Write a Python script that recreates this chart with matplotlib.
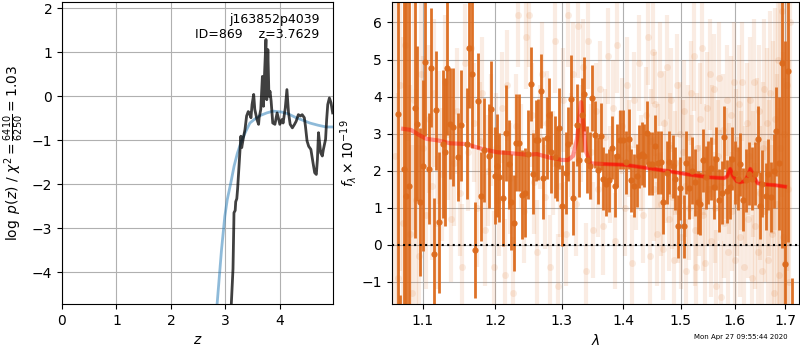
import matplotlib
matplotlib.use('Agg')
import matplotlib.pyplot as plt
import numpy as np
from matplotlib.ticker import FixedLocator, FormatStrFormatter, NullLocator

# ---- p(z) panel ----
z_pz = [3.10, 3.109, 3.14, 3.155, 3.158, 3.18, 3.19, 3.21, 3.225, 3.25, 3.27, 3.285, 3.30, 3.33,
        3.36, 3.39, 3.42, 3.44, 3.47, 3.49, 3.52, 3.54, 3.58, 3.61, 3.62, 3.65, 3.68, 3.70, 3.72,
        3.745, 3.76, 3.78, 3.80, 3.82, 3.84, 3.87, 3.91, 3.95, 3.98, 4.00, 4.04, 4.06, 4.10, 4.13,
        4.16, 4.19, 4.23, 4.27, 4.30, 4.34, 4.38, 4.41, 4.45, 4.47, 4.50, 4.53, 4.57, 4.61, 4.64,
        4.67, 4.69, 4.71, 4.73, 4.75, 4.78, 4.80, 4.84, 4.86, 4.88, 4.91, 4.94, 4.97]
logp = [-6.0, -4.73, -3.93, -2.9, -2.65, -2.60, -2.40, -2.33, -2.1, -1.6, -1.2, -0.91, -1.17, -0.95,
        -0.76, -0.45, -0.35, -0.38, -0.49, -0.19, 0.04, -0.30, -0.53, -0.64, -0.49, -0.30, 0.45, -0.23, 0.53,
        1.29, -0.08, 1.06, 0.0, 0.11, -0.11, -0.61, -0.64, -0.38, -0.53, -0.64, -0.53, -0.61, -0.27, 0.15,
        -0.38, -0.64, -0.72, -0.64, -0.57, -0.42, -0.45, -0.42, -0.49, -0.68, -1.02, -1.14, -1.21, -1.52, -1.74,
        -1.78, -1.44, -0.83, -1.06, -1.29, -1.36, -1.21, -0.98, -0.53, -0.19, -0.04, -0.15, -0.38]

z_prior = [2.80, 2.85, 2.93, 2.99, 3.035, 3.10, 3.16, 3.22, 3.285, 3.36, 3.45, 3.54, 3.64, 3.76,
           3.88, 4.03, 4.15, 4.30, 4.45, 4.55, 4.70, 4.85, 4.98]
logp_prior = [-5.3, -4.70, -3.48, -2.73, -2.35, -1.97, -1.59, -1.30, -1.06, -0.84, -0.61, -0.52, -0.44, -0.38,
              -0.34, -0.36, -0.40, -0.49, -0.56, -0.61, -0.66, -0.70, -0.70]

# ---- spectrum panel: combined (dark) points ----
lam_d = [1.068, 1.0712, 1.0758, 1.078, 1.0823, 1.0898, 1.0925, 1.0969, 1.1009, 1.1036, 1.108, 1.1116,
         1.1152, 1.1184, 1.1224, 1.1269, 1.1301, 1.1333, 1.1369, 1.141, 1.1479, 1.1516, 1.1604, 1.1636,
         1.1674, 1.1721, 1.1754, 1.1801, 1.1844, 1.1911, 1.1949, 1.1993, 1.2036, 1.2061, 1.2109, 1.2158,
         1.2198, 1.2227, 1.2272, 1.2311, 1.2356, 1.2396, 1.2436, 1.2487, 1.2527,
         1.2565, 1.2605, 1.2641, 1.2676, 1.2717, 1.2768, 1.2809, 1.284, 1.2891, 1.2922, 1.2964, 1.301,
         1.3063, 1.3105, 1.3152, 1.3183, 1.3236, 1.3279, 1.3327, 1.3354, 1.3407, 1.345, 1.3488, 1.3531,
         1.3585, 1.3629, 1.3668, 1.3711, 1.3767, 1.3811, 1.3855, 1.39, 1.3944, 1.3989, 1.4045, 1.409,
         1.4135, 1.4181, 1.4226, 1.4272, 1.4318, 1.4358, 1.4398, 1.4439, 1.4491, 1.4543, 1.4596, 1.4643,
         1.469, 1.4749, 1.4796,
         1.4856, 1.4898, 1.494, 1.4988, 1.5048, 1.5096, 1.5145, 1.52, 1.5249, 1.5304, 1.5353, 1.5402,
         1.5452, 1.5501, 1.5551, 1.5601, 1.5651, 1.5702, 1.5752, 1.5803, 1.5853, 1.5904, 1.5956, 1.6007,
         1.6058, 1.611, 1.6168, 1.6227, 1.6272, 1.6331, 1.639, 1.6449, 1.6489, 1.6542, 1.6608, 1.6661,
         1.6715, 1.6769, 1.6823, 1.6877, 1.6931, 1.6999, 1.7054, 1.7143]
flux_d = [3.54, -3.0, 2.05, 1.33, 1.60, 3.68, 3.27, 1.15, 2.14, 4.94, 2.05, 4.78,
          -0.24, 3.63, 0.61, 2.73, 2.50, 4.76, 3.27, 3.18, 2.37, 3.23, 2.73, 5.30,
          4.62, -0.14, 3.88, 1.31, 2.55, 2.39, 3.66, 1.87, 2.14, 1.83, 1.27, 3.02,
          2.17, 1.15, 0.59, 2.76, 2.76, 1.35, 1.40, 2.44, 4.33,
          1.92, 2.82, 2.84, 4.14, 1.81, 2.88, 3.51, 2.50, 2.37, 2.19, 3.14, 1.06,
          1.94, 2.71, 3.93, 1.27, 3.24, 2.28, 3.50, 4.08, 2.30, 2.14, 3.96, 2.97,
          2.01, 2.93, 1.78, 1.63, 1.74, 2.62, 1.60, 2.41, 2.84, 2.84, 2.23, 2.86,
          1.74, 1.60, 1.87, 2.39, 2.46, 2.41, 3.02, 2.19, 2.19, 2.66, 2.21, 2.23,
          1.15, 1.94, 2.23,
          2.12, 1.78, 0.50, 1.53, 0.50, 2.21, 1.54, 2.0, 1.69, 1.15, 1.11, 2.28,
          1.83, 1.96, 2.07, 1.56, 2.32, 1.20, 1.40, 2.91, 1.45, 1.56, 2.32, 1.94,
          1.78, 2.17, 1.22, 1.74, 1.92, 1.78, 1.92, 2.85, 1.06, 1.65, 1.31, 1.90,
          1.29, 2.0, 3.06, 2.2, 4.92, -0.51, 4.68, -2.6]
err_d = [6, 1.65, 6, 6, 6, 3.5, 2.1, 2.0, 2.3, 2.0, 1.5, 1.6,
         1.5, 1.6, 1.9, 2.0, 2.0, 1.8, 1.5, 1.6, 1.2, 1.5, 1.5, 1.6,
         2.0, 1.3, 1.3, 1.2, 1.4, 1.4, 1.3, 1.3, 1.4, 1.2, 1.3, 1.3,
         1.2, 1.3, 1.3, 1.3, 1.3, 1.2, 1.2, 1.2, 1.0,
         1.1, 1.1, 1.1, 1.0, 1.1, 1.1, 1.0, 1.1, 1.1, 1.0, 1.1, 1.1,
         1.1, 1.0, 1.2, 1.0, 1.1, 1.0, 1.0, 1.0, 0.9, 0.9, 0.9, 0.9,
         0.9, 0.9, 0.85, 0.85, 0.85, 0.85, 0.85, 0.85, 0.8, 0.8, 0.85, 0.8,
         0.85, 0.85, 0.85, 0.85, 0.85, 0.85, 0.85, 0.85, 0.85, 0.85, 0.85, 0.85,
         0.85, 0.85, 0.85,
         0.85, 0.85, 0.85, 0.85, 0.85, 0.85, 0.85, 0.9, 0.9, 0.85, 0.85, 0.85,
         0.85, 0.85, 0.85, 0.85, 0.85, 0.85, 0.85, 0.85, 0.85, 0.85, 0.85, 0.85,
         0.85, 0.85, 0.85, 0.85, 0.85, 0.85, 0.85, 0.9, 0.9, 0.9, 0.9, 0.95,
         0.95, 1.0, 1.2, 1.8, 5, 6, 4.6, 1.7]

# ---- individual-beam (faint) points ----
lam_f = [1.064, 1.068, 1.071, 1.074, 1.077, 1.080, 1.083, 1.086, 1.089, 1.092, 1.095, 1.098,
         1.101, 1.104, 1.108, 1.112, 1.115, 1.119, 1.122, 1.126, 1.130, 1.134, 1.138, 1.142,
         1.146, 1.150, 1.154, 1.158, 1.162, 1.166, 1.170, 1.174, 1.178, 1.182, 1.186, 1.190,
         1.194, 1.198, 1.202, 1.206, 1.210, 1.214, 1.218, 1.222, 1.226, 1.230, 1.234, 1.238,
         1.242, 1.246, 1.250, 1.254, 1.258, 1.262, 1.266, 1.270, 1.274, 1.278, 1.282, 1.286,
         1.290, 1.294, 1.298, 1.302, 1.306, 1.310, 1.314, 1.318, 1.322, 1.326, 1.330, 1.334,
         1.338, 1.342, 1.346, 1.350, 1.354, 1.358, 1.362, 1.366, 1.370, 1.374, 1.378, 1.382,
         1.386, 1.390, 1.394, 1.398, 1.402, 1.406, 1.410, 1.414, 1.418, 1.422, 1.426, 1.430,
         1.434, 1.438, 1.442, 1.446,
         1.448, 1.450, 1.453, 1.455, 1.458, 1.460, 1.463, 1.465, 1.468, 1.470, 1.473, 1.475,
         1.478, 1.480, 1.483, 1.485, 1.488, 1.490, 1.493, 1.495, 1.498, 1.500, 1.503, 1.505,
         1.508, 1.510, 1.513, 1.515, 1.518, 1.520, 1.523, 1.525, 1.528, 1.530, 1.533, 1.535,
         1.538, 1.540, 1.543, 1.545, 1.548, 1.550, 1.553, 1.555, 1.558, 1.560, 1.563, 1.565,
         1.568, 1.570, 1.573, 1.575, 1.578, 1.580, 1.583, 1.585, 1.588, 1.590, 1.593, 1.595,
         1.598, 1.600, 1.603, 1.605, 1.608, 1.610, 1.613, 1.615, 1.618, 1.620, 1.623, 1.625,
         1.628, 1.630, 1.633, 1.635, 1.638, 1.640, 1.643, 1.645, 1.648, 1.650, 1.653, 1.655,
         1.658, 1.660, 1.663, 1.665, 1.668, 1.670, 1.673, 1.675, 1.678, 1.680, 1.683, 1.685,
         1.688, 1.690, 1.693, 1.695, 1.698, 1.700, 1.703, 1.705, 1.708, 1.711]
flux_f = [2.4, -0.9, 4.3, 0.6, 5.4, 2.9, 0.3, -1.3, 3.9, 1.2, -0.3, 4.6,
          2.6, 0.8, 3.4, 1.6, 4.1, 0.6, 2.9, 1.9, 4.4, 3.0, 0.7, 2.2,
          3.6, 1.4, -0.6, 4.9, 2.5, 5.3, 3.3, 1.0, 2.8, 4.1, 0.4, 2.0,
          3.1, -0.6, 2.6, 1.2, 3.7, -0.8, 4.3, 1.8, -1.3, 3.2, 6.2, 2.4,
          0.9, 5.6, 6.2, 3.5, 1.7, -0.2, 2.9, 4.6, 1.3, 3.3, -0.6, 2.2,
          5.5, -1.1, 1.6, 3.9, 0.3, 6.2, 2.7, 4.6, 1.1, 5.9, 3.0, 4.8,
          -0.7, 5.5, 2.5, 0.4, 3.6, 1.5, 4.2, 0.5, 2.9, 5.1, 1.9, 3.7,
          0.1, 5.4, 2.3, 3.2, 1.0, 4.3, 2.6, -0.5, 3.9, 1.7, 4.9, 2.2,
          0.8, 3.5, 5.6, -0.3,
          2.8, 5.2, 1.5, 3.8, 0.3, 2.4, 4.6, 1.1, -0.1, 3.3, 2.0, 4.8,
          0.7, 2.7, 3.9, 1.3, -0.4, 2.2, 4.3, 0.9, 3.0, 0.2, 2.5, 3.6,
          1.6, -0.7, 2.9, 1.0, 4.1, 2.1, 5.1, 0.4, -0.6, 2.6, 1.2, 3.4,
          5.3, 0.8, 2.3, -0.5, 3.7, 1.5, 4.6, 0.1, 2.8, 4.2, 1.0, -1.1,
          2.4, 4.5, 1.6, -1.4, 3.1, 0.6, 2.2, 3.9, -0.2, 1.8, 3.5, 0.9,
          4.4, -0.4, 2.6, 1.3, 3.8, 0.2, 2.0, 4.4, -0.6, 1.6, 3.3, 0.7,
          2.4, 3.9, -0.9, 1.9, 4.4, 0.5, 2.8, -0.2, 3.6, 1.4, -0.7, 2.6,
          4.2, 0.9, 3.3, -0.4, 1.8, 4.1, 0.3, 2.9, -1.3, 3.4, 1.1, 5.0,
          -0.8, 2.6, 6.3, 0.2, 3.0, -0.5, 4.3, 1.5, -1.0, 6.0]
err_f = [5, 5, 5, 5, 5, 5, 4, 4, 3.5, 3, 3, 2.5,
         2.5, 2, 2, 2, 2, 1.8, 1.8, 1.8, 1.8, 1.8, 1.7, 1.7,
         1.7, 1.7, 1.7, 1.6, 1.6, 1.6, 1.6, 1.6, 1.6, 1.5, 1.5, 1.5,
         1.5, 1.5, 1.5, 1.5, 1.5, 1.5, 1.5, 1.5, 1.5, 1.4, 1.4, 1.4,
         1.4, 1.4, 1.4, 1.4, 1.4, 1.4, 1.4, 1.4, 1.4, 1.4, 1.4, 1.4,
         1.4, 1.4, 1.4, 1.4, 1.4, 1.4, 1.4, 1.4, 1.4, 1.4, 1.3, 1.3,
         1.3, 1.3, 1.3, 1.3, 1.3, 1.3, 1.3, 1.3, 1.3, 1.3, 1.3, 1.3,
         1.3, 1.3, 1.3, 1.3, 1.3, 1.3, 1.3, 1.3, 1.3, 1.3, 1.3, 1.3,
         1.3, 1.3, 1.3, 1.3,
         1.4, 1.4, 1.4, 1.4, 1.4, 1.4, 1.4, 1.4, 1.4, 1.4, 1.4, 1.4,
         1.4, 1.4, 1.4, 1.4, 1.4, 1.4, 1.4, 1.4, 1.4, 1.4, 1.4, 1.4,
         1.4, 1.4, 1.4, 1.4, 1.4, 1.4, 1.5, 1.5, 1.5, 1.5, 1.5, 1.5,
         1.5, 1.5, 1.5, 1.5, 1.5, 1.5, 1.5, 1.5, 1.5, 1.5, 1.5, 1.5,
         1.5, 1.5, 1.5, 1.5, 1.5, 1.5, 1.5, 1.5, 1.5, 1.5, 1.6, 1.6,
         1.6, 1.6, 1.6, 1.6, 1.6, 1.6, 1.6, 1.6, 1.6, 1.6, 1.6, 1.6,
         1.6, 1.7, 1.7, 1.7, 1.7, 1.7, 1.7, 1.7, 1.8, 1.8, 1.8, 1.8,
         1.9, 1.9, 2.0, 2.0, 2.1, 2.2, 2.4, 2.6, 2.8, 3.0, 3.5, 4.0,
         4.5, 5, 5, 5, 5, 5, 5, 6, 6, 6]

# ---- best-fit model ----
lam_m = [1.0747, 1.085, 1.095, 1.105, 1.12, 1.137, 1.159, 1.181, 1.203, 1.225, 1.248, 1.262,
         1.28, 1.30, 1.31, 1.318, 1.324, 1.328, 1.3306, 1.334, 1.338, 1.345, 1.369, 1.402,
         1.446, 1.481, 1.517, 1.555, 1.58, 1.586, 1.5915, 1.597, 1.604, 1.611, 1.620, 1.626,
         1.6305, 1.636, 1.645, 1.66, 1.68, 1.70]
flux_m = [3.13, 3.10, 2.97, 2.86, 2.82, 2.74, 2.72, 2.59, 2.50, 2.47, 2.43, 2.45,
          2.36, 2.29, 2.29, 2.40, 2.85, 3.45, 3.85, 3.30, 2.55, 2.20, 2.18, 2.16,
          2.06, 1.98, 1.89, 1.82, 1.80, 1.85, 2.05, 1.85, 1.72, 1.69, 1.72, 1.88,
          2.05, 1.88, 1.66, 1.63, 1.61, 1.57]

orange = '#dc6a1c'

fig = plt.figure(figsize=(8, 3.5), dpi=100)
ax1 = fig.add_axes([0.0775, 0.131, 0.339, 0.863])
ax2 = fig.add_axes([0.4896, 0.131, 0.5094, 0.863])

ax1.plot(z_prior, logp_prior, color='C0', alpha=0.5, lw=2)
ax1.plot(z_pz, logp, color='k', alpha=0.75, lw=2)
ax1.set_xlim(0, 4.98)
ax1.set_ylim(-4.73, 2.14)
ax1.set_xticks([0, 1, 2, 3, 4])
ax1.grid()
ax1.set_xlabel('$z$')
ax1.set_ylabel(r'$\log\ p(z)$ / $\chi^2=\frac{6410}{6250}=1.03$')
ax1.text(0.95, 0.965, 'j163852p4039\nID=869    z=3.7629', ha='right', va='top',
         transform=ax1.transAxes, fontsize=9)

ax2.errorbar(lam_f, flux_f, yerr=err_f, fmt='o', color=orange, alpha=0.12,
             ms=5, mec='none', elinewidth=3, capsize=0)
ax2.errorbar(lam_d, flux_d, yerr=err_d, fmt='o', color=orange, alpha=0.95,
             ms=4.5, mec='none', elinewidth=2, capsize=0)
ax2.plot(lam_m, flux_m, color='r', alpha=0.4, lw=3)
ax2.plot(lam_m[22:], flux_m[22:], color='r', alpha=0.5, lw=2)
ax2.axhline(0, color='k', ls=':', lw=1.5)

ax2.set_xscale('log')
ax2.set_xlim(1.06, 1.729)
ax2.set_ylim(-1.6, 6.55)
ax2.xaxis.set_major_locator(FixedLocator([1.1, 1.2, 1.3, 1.4, 1.5, 1.6, 1.7]))
ax2.xaxis.set_major_formatter(FormatStrFormatter('%.1f'))
ax2.xaxis.set_minor_locator(NullLocator())
ax2.grid()
ax2.set_xlabel(r'$\lambda$')
ax2.set_ylabel(r'$f_\lambda\times10^{-19}$', labelpad=2)

fig.text(0.985, 0.03, 'Mon Apr 27 09:55:44 2020', ha='right', fontsize=5)

fig.savefig('out.png', dpi=100)
